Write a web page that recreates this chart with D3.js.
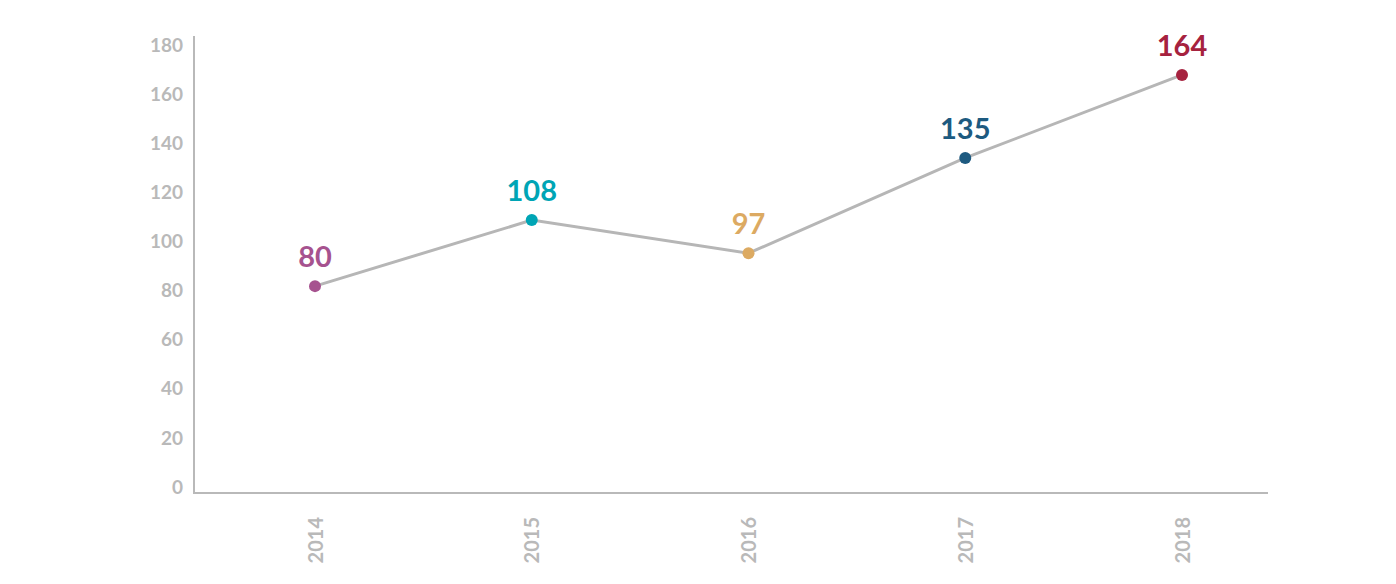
<!DOCTYPE html>
<html>
<head>
<meta charset="utf-8">
<script src="https://cdn.jsdelivr.net/npm/d3@7"></script>
<style>
  html, body { margin: 0; padding: 0; background: #ffffff; }
  svg { display: block; }
</style>
</head>
<body>
<svg id="chart" width="1396" height="584"></svg>
<script>
const years = ["2014", "2015", "2016", "2017", "2018"];
const values = [81.6, 108.5, 95.0, 133.8, 167.6];
const labels = ["80", "108", "97", "135", "164"];
const colors = ["#a6528f", "#00a5b5", "#dcaa62", "#1d5a80", "#a6223f"];
const yTicks = [0, 20, 40, 60, 80, 100, 120, 140, 160, 180];

const svg = d3.select("#chart");
const axisColor = "#b9b9b9";
const fontFam = "Lato, 'Open Sans', 'Liberation Sans', sans-serif";

const x = d3.scalePoint().domain(years).range([315, 1182]);
const y = d3.scaleLinear().domain([0, 180]).range([486.5, 44.5]);

// axes lines
svg.append("line").attr("x1", 194).attr("x2", 194).attr("y1", 36).attr("y2", 494)
  .attr("stroke", axisColor).attr("stroke-width", 2);
svg.append("line").attr("x1", 193).attr("x2", 1268).attr("y1", 493).attr("y2", 493)
  .attr("stroke", axisColor).attr("stroke-width", 2);

// y tick labels
const yAxis = d3.axisLeft(y).tickValues(yTicks).tickSize(0).tickPadding(0);
const gy = svg.append("g").attr("transform", "translate(183,0)").call(yAxis);
gy.select(".domain").remove();
gy.selectAll("text")
  .attr("fill", axisColor)
  .attr("font-family", fontFam)
  .attr("font-weight", 700)
  .attr("font-size", 19)
  .attr("dy", "0.35em");

// x tick labels (rotated)
const xAxis = d3.axisBottom(x).tickSize(0).tickPadding(0);
const gx = svg.append("g").attr("transform", "translate(0,517)").call(xAxis);
gx.select(".domain").remove();
gx.selectAll("text")
  .attr("fill", axisColor)
  .attr("font-family", fontFam)
  .attr("font-weight", 700)
  .attr("font-size", 20)
  .attr("transform", "rotate(-90)")
  .attr("text-anchor", "end")
  .attr("x", 0)
  .attr("y", 0)
  .attr("dy", "0.35em");

// line
const data = years.map((yr, i) => ({ yr, v: values[i], label: labels[i], c: colors[i] }));
const line = d3.line().x(d => x(d.yr)).y(d => y(d.v));
svg.append("path").datum(data).attr("d", line)
  .attr("fill", "none").attr("stroke", "#b6b6b6").attr("stroke-width", 3);

// points
svg.selectAll("circle.pt").data(data).enter().append("circle")
  .attr("class", "pt")
  .attr("cx", d => x(d.yr)).attr("cy", d => y(d.v)).attr("r", 6)
  .attr("fill", d => d.c);

// value labels
svg.selectAll("text.val").data(data).enter().append("text")
  .attr("class", "val")
  .attr("x", d => x(d.yr)).attr("y", d => y(d.v) - 19)
  .attr("text-anchor", "middle")
  .attr("fill", d => d.c)
  .attr("font-family", fontFam)
  .attr("font-weight", 700)
  .attr("font-size", 29)
  .text(d => d.label);
</script>
</body>
</html>
